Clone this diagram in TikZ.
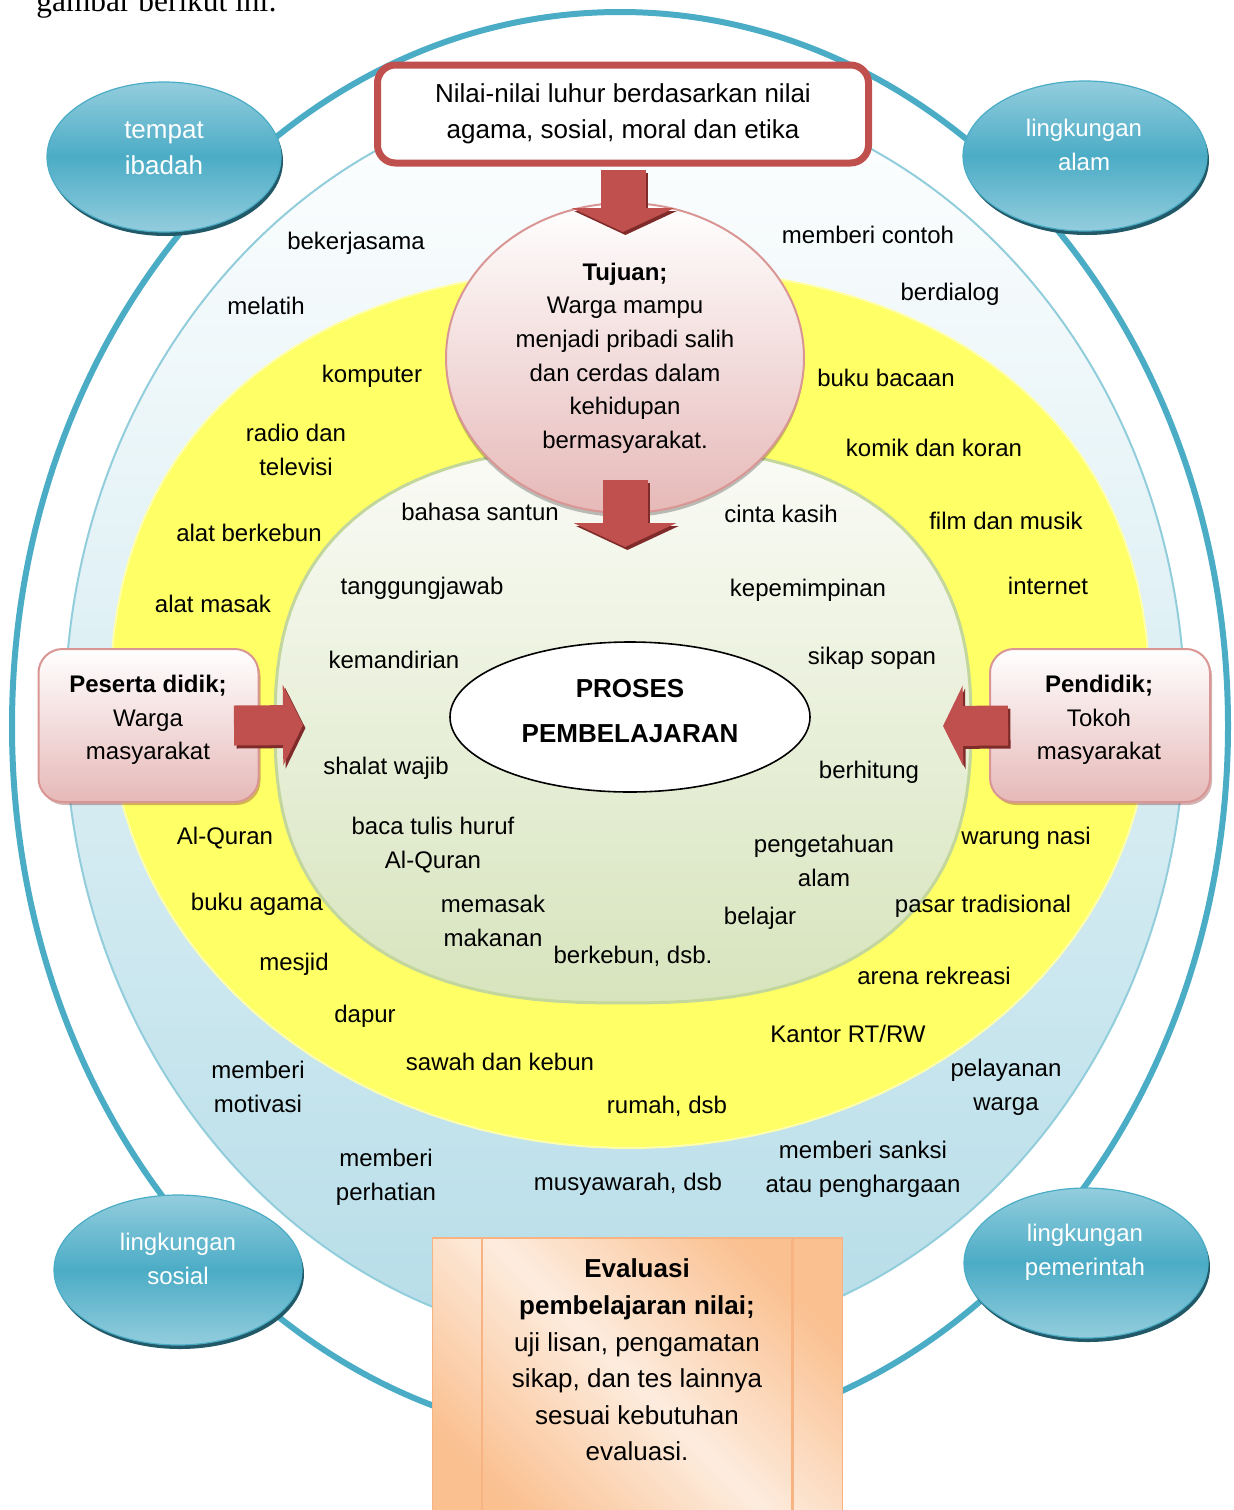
\documentclass[tikz,border=0pt]{standalone}
\usepackage{fontspec}
\setmainfont{Liberation Sans}
\newfontfamily\timesfont{Liberation Serif}
\usetikzlibrary{arrows.meta,shapes.geometric,shadows}

\definecolor{tealline}{RGB}{75,172,198}
\definecolor{teallight}{RGB}{147,205,221}
\definecolor{tealshadow}{RGB}{33,89,104}
\definecolor{blueedge}{RGB}{146,205,220}
\definecolor{bluebottom}{RGB}{182,221,232}
\definecolor{yellowfill}{RGB}{255,255,102}
\definecolor{yellowedge}{RGB}{255,255,170}
\definecolor{greentop}{RGB}{250,251,246}
\definecolor{greenbottom}{RGB}{215,228,189}
\definecolor{greenedge}{RGB}{195,214,155}
\definecolor{redline}{RGB}{192,80,77}
\definecolor{redshadow}{RGB}{127,43,41}
\definecolor{pinkedge}{RGB}{217,150,148}
\definecolor{pinkbottom}{RGB}{230,185,184}
\definecolor{evalorange}{RGB}{250,192,144}
\definecolor{evallight}{RGB}{253,236,222}
\definecolor{evaledge}{RGB}{247,180,130}

\tikzset{
  lbl/.style={font=\fontsize{12}{17}\selectfont, align=center, inner sep=0pt},
  lingk/.style={ellipse, minimum width=120pt, minimum height=75pt, inner sep=0pt,
    draw=tealline, line width=0.6pt, top color=teallight, bottom color=teallight, middle color=tealline,
    drop shadow={shadow xshift=1pt, shadow yshift=-2pt, fill=tealshadow, opacity=1}},
  lingktxt/.style={lbl, text=white},
  nilaibox/.style={rectangle, rounded corners=9pt, draw=redline, line width=3.5pt, fill=white,
    minimum width=245.5pt, minimum height=49pt, align=center, font=\fontsize{13}{18}\selectfont},
  tujuanbox/.style={ellipse, draw=pinkedge, line width=1pt, top color=white, bottom color=pinkbottom,
    minimum width=179pt, minimum height=155pt, inner sep=0pt, align=center, font=\fontsize{12}{16.8}\selectfont,
    drop shadow={shadow xshift=0pt, shadow yshift=-2pt, fill=black, opacity=.25}},
  prosesbox/.style={ellipse, draw=black, line width=0.8pt, fill=white, minimum width=180pt, minimum height=75pt},
  prosestxt/.style={font=\fontsize{13}{22.5}\selectfont\bfseries, align=center, inner sep=0pt},
  sidebox/.style={rectangle, rounded corners=12pt, minimum width=110pt, minimum height=76.5pt,
    draw=pinkedge, line width=1pt, top color=white, bottom color=pinkbottom,
    drop shadow={shadow xshift=1pt, shadow yshift=-1.5pt, fill=redshadow, opacity=.35}},
  sidetxt/.style={font=\fontsize{12}{16.75}\selectfont, align=center, inner sep=0pt},
  evalbox/.style={rectangle, draw=evaledge, line width=0.8pt, minimum width=205pt, minimum height=147pt,
    top color=evalorange, bottom color=evalorange, middle color=evallight, shading angle=-45},
  evaltxt/.style={font=\fontsize{13}{18.3}\selectfont, align=center, inner sep=0pt},
  evalstripe/.style={draw=evaledge, line width=1.2pt},
  fatv/.style={draw=redline, line width=22.5pt, -{Triangle[length=12pt, width=51pt]}},
  fath/.style={draw=redline, line width=20pt, -{Triangle[length=10pt, width=40pt]}},
  fatshadow/.style={draw=redshadow, transform canvas={shift={(1.2pt,-1.5pt)}}}
}

\begin{document}
\begin{tikzpicture}[x=0.5pt,y=-0.5pt]
  \clip (0,0) rectangle (1233,1510);
  \node[anchor=base west, inner sep=0pt, font=\timesfont\fontsize{15.7}{18}\selectfont] (pengantar) at (36,11) {gambar berikut ini:};

  \draw[tealline, line width=3pt] (620,726) ellipse [x radius=608, y radius=714]; % lingkaran luar
  \draw[blueedge, line width=1pt, top color=white, bottom color=bluebottom] (625,715) ellipse [x radius=560, y radius=630];
  \draw[yellowedge, line width=1pt, fill=yellowfill]
    plot[domain=1.5:178.5, samples=60] ({630+520*cos(\x)}, {708+440*sin(\x)})
    -- plot[domain=181.5:358.5, samples=60] ({630+520*cos(\x)*abs(cos(\x))^(-0.13)}, {708+440*sin(\x)*abs(sin(\x))^(-0.13)})
    -- cycle; % cincin kuning
  \draw[greenedge, line width=1.5pt, top color=greentop, bottom color=greenbottom]
    plot[domain=1.5:358.5, samples=120] ({623+348*cos(\x)*abs(cos(\x))^(-0.2)}, {725+278*sin(\x)*abs(sin(\x))^(-0.2)})
    -- cycle; % lingkaran dalam

  \node[prosesbox] (proses) at (630,717) {};
  \node[prosestxt] (proses-t) at (630,711) {PROSES\\PEMBELAJARAN};
  \node[tujuanbox] (tujuan) at (625,358) {\textbf{Tujuan;}\\Warga mampu\\menjadi pribadi salih\\dan cerdas dalam\\kehidupan\\bermasyarakat.};
  \node[nilaibox] (nilai) at (623,114) {Nilai-nilai luhur berdasarkan nilai\\agama, sosial, moral dan etika};

  \node[sidebox] (peserta) at (148.5,725.5) {};
  \node[sidetxt] (peserta-t) at (148,720) {\textbf{Peserta didik;}\\Warga\\masyarakat};
  \node[sidebox] (pendidik) at (1100,725.5) {};
  \node[sidetxt] (pendidik-t) at (1099,720) {\textbf{Pendidik;}\\Tokoh\\masyarakat};

  \node[lingk, minimum width=117pt] (ibadah) at (164,157) {};
  \node[lingktxt, font=\fontsize{13}{18}\selectfont] (ibadah-t) at (164,148) {tempat\\ibadah};
  \node[lingk, minimum width=122pt] (alam) at (1085,156) {};
  \node[lingktxt] (alam-t) at (1084,145) {lingkungan\\alam};
  \node[lingk, minimum width=124pt] (sosial) at (178,1270) {};
  \node[lingktxt] (sosial-t) at (178,1259) {lingkungan\\sosial};
  \node[lingk, minimum width=122pt] (pemerintah) at (1086,1263) {};
  \node[lingktxt] (pemerintah-t) at (1085,1252) {lingkungan\\pemerintah};

  \node[evalbox, anchor=north] (evalbox) at (637.5,1237) {};
  \draw[evalstripe] ([xshift=25pt]evalbox.north west) -- ([xshift=25pt]evalbox.south west);
  \draw[evalstripe] ([xshift=-25.5pt]evalbox.north east) -- ([xshift=-25.5pt]evalbox.south east);
  \node[evaltxt] (eval) at (637,1360) {\textbf{Evaluasi}\\\textbf{pembelajaran nilai;}\\uji lisan, pengamatan\\sikap, dan tes lainnya\\sesuai kebutuhan\\evaluasi.};

  % panah
  \coordinate (tujuan-in) at (623,232);
  \coordinate (proses-in) at (625,547);
  \coordinate (dalam-w) at (303,725);
  \coordinate (dalam-e) at (943,726);
  \draw[fatv, fatshadow] ([yshift=-1.75pt]nilai.south) -- (tujuan-in);
  \draw[fatv] ([yshift=-1.75pt]nilai.south) -- (tujuan-in);
  \draw[fatv, fatshadow] ([yshift=17pt]tujuan.south) -- (proses-in);
  \draw[fatv] ([yshift=17pt]tujuan.south) -- (proses-in);
  \draw[fath, fatshadow] ([xshift=-12.75pt]peserta.east) -- (dalam-w);
  \draw[fath] ([xshift=-12.75pt]peserta.east) -- (dalam-w);
  \draw[fath, fatshadow] ([xshift=9.5pt]pendidik.west) -- (dalam-e);
  \draw[fath] ([xshift=9.5pt]pendidik.west) -- (dalam-e);

  % cincin biru
  \node[lbl] (bekerjasama) at (356,243) {bekerjasama};
  \node[lbl] (melatih) at (266,306) {melatih};
  \node[lbl] (contoh) at (868,235) {memberi contoh};
  \node[lbl] (dialog) at (950,294) {berdialog};
  \node[lbl] (motivasi) at (258,1087) {memberi\\motivasi};
  \node[lbl] (perhatian) at (386,1177) {memberi\\perhatian};
  \node[lbl] (musyawarah) at (628,1184) {musyawarah, dsb};
  \node[lbl] (sanksi) at (863,1169) {memberi sanksi\\atau penghargaan};
  \node[lbl] (pelayanan) at (1006,1087) {pelayanan\\warga};

  % cincin kuning
  \node[lbl] (komputer) at (372,376) {komputer};
  \node[lbl] (radio) at (296,450) {radio dan\\televisi};
  \node[lbl] (berkebunalat) at (249,533) {alat berkebun};
  \node[lbl] (masak) at (213,604) {alat masak};
  \node[lbl] (bacaan) at (886,378) {buku bacaan};
  \node[lbl] (komik) at (934,448) {komik dan koran};
  \node[lbl] (film) at (1006,521) {film dan musik};
  \node[lbl] (internet) at (1048,586) {internet};
  \node[lbl] (quran) at (225,838) {Al-Quran};
  \node[lbl] (agama) at (257,904) {buku agama};
  \node[lbl] (mesjid) at (294,964) {mesjid};
  \node[lbl] (dapur) at (365,1016) {dapur};
  \node[lbl] (sawah) at (500,1062) {sawah dan kebun};
  \node[lbl] (rumah) at (667,1106) {rumah, dsb};
  \node[lbl] (kantor) at (848,1034) {Kantor RT/RW};
  \node[lbl] (arena) at (934,976) {arena rekreasi};
  \node[lbl] (pasar) at (983,906) {pasar tradisional};
  \node[lbl] (warung) at (1026,838) {warung nasi};

  % lingkaran dalam
  \node[lbl] (santun) at (480,512) {bahasa santun};
  \node[lbl] (kasih) at (781,514) {cinta kasih};
  \node[lbl] (tanggung) at (422,588) {tanggungjawab};
  \node[lbl] (pemimpin) at (808,590) {kepemimpinan};
  \node[lbl] (mandiri) at (394,660) {kemandirian};
  \node[lbl] (sopan) at (872,658) {sikap sopan};
  \node[lbl] (shalat) at (386,768) {shalat wajib};
  \node[lbl] (hitung) at (869,772) {berhitung};
  \node[lbl] (bacatulis) at (433,845) {baca tulis huruf\\Al-Quran};
  \node[lbl] (pengetahuan) at (824,861) {pengetahuan\\alam};
  \node[lbl] (memasak) at (493,921) {memasak\\makanan};
  \node[lbl] (belajar) at (760,918) {belajar};
  \node[lbl] (kebun) at (633,956) {berkebun, dsb.};
\end{tikzpicture}
\end{document}
